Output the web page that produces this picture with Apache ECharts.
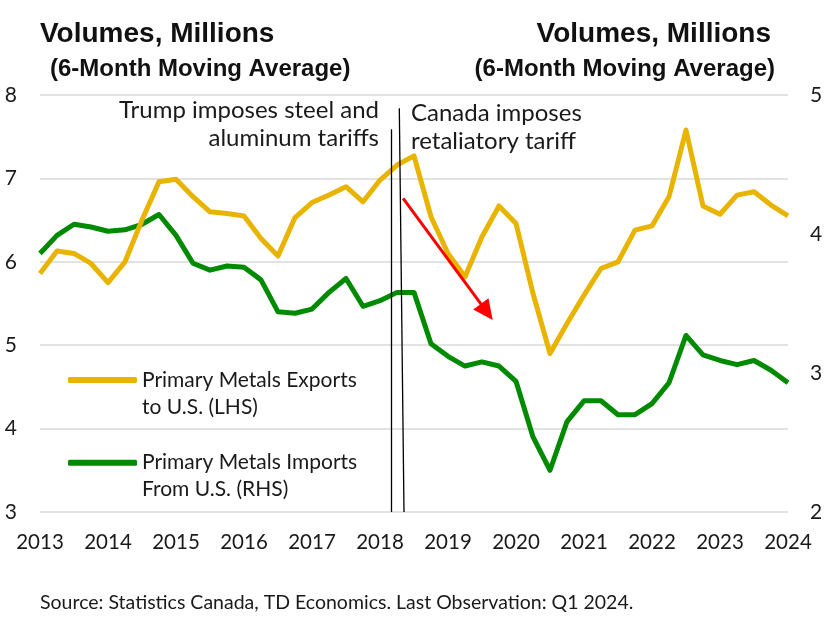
<!DOCTYPE html>
<html>
<head>
<meta charset="utf-8">
<script src="https://cdn.jsdelivr.net/npm/echarts@6/dist/echarts.min.js"></script>
<style>
html,body{margin:0;padding:0;background:#fff;}
#chart{width:827px;height:617px;}
</style>
</head>
<body>
<div id="chart"></div>
<script>
// Quarterly observations, 2013 Q1 .. 2024 Q1
const startYear = 2013;
const exportsLHS = [5.86, 6.13, 6.10, 5.98, 5.75, 6.00, 6.50, 6.96, 6.99, 6.78, 6.60, 6.58, 6.55, 6.28, 6.07, 6.53,
  6.71, 6.80, 6.90, 6.72, 6.98, 7.16, 7.27, 6.54, 6.10, 5.82, 6.30, 6.67, 6.46, 5.62, 4.90, 5.26,
  5.60, 5.92, 6.00, 6.38, 6.43, 6.78, 7.58, 6.67, 6.57, 6.80, 6.84, 6.68, 6.55];
const importsRHS = [3.86, 3.99, 4.07, 4.05, 4.02, 4.03, 4.07, 4.14, 3.99, 3.79, 3.74, 3.77, 3.76, 3.67, 3.44, 3.43,
  3.46, 3.58, 3.68, 3.48, 3.52, 3.58, 3.58, 3.21, 3.12, 3.05, 3.08, 3.05, 2.94, 2.54, 2.30, 2.65,
  2.80, 2.80, 2.70, 2.70, 2.78, 2.93, 3.27, 3.13, 3.09, 3.06, 3.09, 3.02, 2.93];
const yearLabels = ['2013','2014','2015','2016','2017','2018','2019','2020','2021','2022','2023','2024'];
const seriesNames = ['Primary Metals Exports\nto U.S. (LHS)', 'Primary Metals Imports\nFrom U.S. (RHS)'];

// annotation positions (in data units: year, LHS value)
const steelLine = [[2018.172, 3], [2018.172, 7.59]];
const retalLine = [[2018.284, 7.84], [2018.353, 3]];
const arrowLine = [[2018.34, 6.76], [2019.57, 5.40]];

const toXY = arr => arr.map((v, i) => [startYear + i / 4, v]);

const bodyFont = 'Lato';
const textColor = '#1a1a1a';

const chart = echarts.init(document.getElementById('chart'));
chart.setOption({
  animation: false,
  backgroundColor: '#fff',
  title: [
    { text: 'Volumes, Millions', left: 35, top: 15,
      textStyle: { fontFamily: 'Liberation Sans', fontWeight: 'bold', fontSize: 28, color: '#111' } },
    { text: '(6-Month Moving Average)', left: 45, top: 52,
      textStyle: { fontFamily: 'Liberation Sans', fontWeight: 'bold', fontSize: 24, color: '#111' } },
    { text: 'Volumes, Millions', right: 51, top: 15,
      textStyle: { fontFamily: 'Liberation Sans', fontWeight: 'bold', fontSize: 28, color: '#111' } },
    { text: '(6-Month Moving Average)', right: 47, top: 52,
      textStyle: { fontFamily: 'Liberation Sans', fontWeight: 'bold', fontSize: 24, color: '#111' } },
    { text: 'Source: Statistics Canada, TD Economics. Last Observation: Q1 2024.', left: 35, top: 588,
      textStyle: { fontFamily: bodyFont, fontWeight: 'normal', fontSize: 19.5, color: textColor } }
  ],
  grid: { left: 40, right: 39, top: 95, bottom: 105, containLabel: false },
  legend: {
    orient: 'vertical', left: 68, top: 339.5, padding: 0, itemGap: 1.7,
    itemWidth: 69, itemHeight: 6, icon: 'roundRect',
    data: seriesNames,
    formatter: name => '\n' + name,
    textStyle: { fontFamily: bodyFont, fontSize: 21, lineHeight: 27, color: textColor },
    selectedMode: false
  },
  xAxis: {
    type: 'value', min: 2013, max: 2024, interval: 1,
    axisLine: { show: false }, axisTick: { show: false }, splitLine: { show: false },
    axisLabel: { fontFamily: bodyFont, fontSize: 20.5, color: textColor, margin: 20,
      formatter: v => yearLabels[Math.round(v - startYear)] || '' }
  },
  yAxis: [
    { type: 'value', min: 3, max: 8, interval: 1,
      axisLine: { show: false }, axisTick: { show: false },
      splitLine: { show: true, lineStyle: { color: '#d9d9d9', width: 1.5 } },
      axisLabel: { fontFamily: bodyFont, fontSize: 21, color: textColor, margin: 23 } },
    { type: 'value', min: 2, max: 5, interval: 1, position: 'right',
      axisLine: { show: false }, axisTick: { show: false }, splitLine: { show: false },
      axisLabel: { fontFamily: bodyFont, fontSize: 21, color: textColor, margin: 22 } }
  ],
  graphic: [
    { type: 'text', x: 379, y: 96,
      style: { text: 'Trump imposes steel and\naluminum tariffs', align: 'right', verticalAlign: 'top',
        fontFamily: bodyFont, fontSize: 24, lineHeight: 28, fill: textColor } },
    { type: 'text', x: 411, y: 99,
      style: { text: 'Canada imposes\nretaliatory tariff', align: 'left', verticalAlign: 'top',
        fontFamily: bodyFont, fontSize: 24, lineHeight: 28, fill: textColor } }
  ],
  series: [
    { name: seriesNames[1], type: 'line', yAxisIndex: 1, data: toXY(importsRHS),
      symbol: 'none', color: '#008A00',
      lineStyle: { width: 5, color: '#008A00', join: 'round' } },
    { name: seriesNames[0], type: 'line', yAxisIndex: 0, data: toXY(exportsLHS),
      symbol: 'none', color: '#E8B400',
      lineStyle: { width: 5, color: '#E8B400', join: 'round' },
      markLine: {
        silent: true, symbol: ['none', 'none'], label: { show: false },
        emphasis: { disabled: true },
        data: [
          [{ coord: steelLine[0], lineStyle: { color: '#000', width: 1.3, type: 'solid' } }, { coord: steelLine[1] }],
          [{ coord: retalLine[0], lineStyle: { color: '#000', width: 1.3, type: 'solid' } }, { coord: retalLine[1] }],
          [{ coord: arrowLine[0], lineStyle: { color: '#FF0000', width: 3, type: 'solid' } },
           { coord: arrowLine[1], symbol: 'triangle', symbolSize: [19, 20] }]
        ]
      }
    }
  ]
});
</script>
</body>
</html>
